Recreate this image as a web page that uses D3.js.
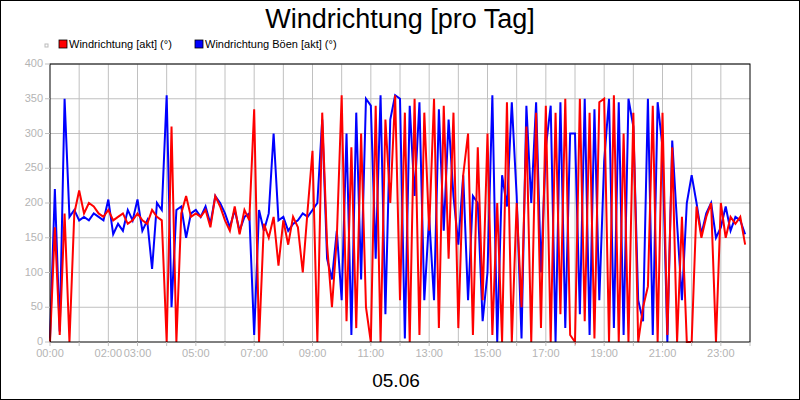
<!DOCTYPE html><html><head><meta charset="utf-8"><script src="https://d3js.org/d3.v7.min.js"></script>
<style>body{margin:0}svg{font-family:"Liberation Sans",Arial,sans-serif}</style></head><body><svg width="800" height="400"></svg><script>
const red=[0,165,10,185,0,185, 218,185,200,195,185,180, 190,175,180,185,170,175, 185,175,170,190,180,175, 0,310,0,185,210,180, 185,180,190,165,210,195, 175,160,195,155,190,175, 335,0,170,150,180,110, 175,140,180,165,100,190, 275,0,330,140,50,150, 355,30,280,20,300,50, 0,340,0,320,200,355, 60,330,0,350,10,330, 160,350,20,340,120,330, 20,240,300,10,280,60, 300,10,200,0,345,0, 200,50,310,0,330,20, 340,0,330,40,350,10, 0,350,30,330,5,345, 350,0,355,0,300,0, 330,0,50,80,340,0, 330,10,280,0,180,0, 0,195,150,180,200,0, 200,150,180,170,180,140];
const blue=[5,220,15,350,180,190, 175,180,175,185,180,175, 205,155,170,160,190,175, 205,160,175,105,200,190, 355,50,190,195,150,185, 190,180,195,170,210,200, 185,165,190,160,180,185, 10,190,160,185,300,175, 180,160,170,175,185,180, 190,200,320,120,90,160, 60,300,10,330,90,350, 340,120,355,40,320,355, 350,5,340,210,345,60, 180,60,335,160,320,210, 140,240,60,210,200,30, 100,355,0,240,195,345, 210,5,340,200,345,100, 280,340,0,345,20,300, 300,40,350,10,335,60, 260,350,20,345,10,350, 310,60,30,350,10,345, 280,0,290,170,60,200, 240,200,155,185,200,150, 165,195,160,180,175,155];
const tickHours=[0,2,3,5,7,9,11,13,15,17,19,21,23];
const yTicks=[0,50,100,150,200,250,300,350,400];
const svg=d3.select("svg");
svg.append("rect").attr("x",0.5).attr("y",0.5).attr("width",799).attr("height",399).attr("fill","#fff").attr("stroke","#000");
const x=d3.scaleLinear().domain([0,24]).range([50,750]);
const y=d3.scaleLinear().domain([0,400]).range([342,64]);
const g=svg.append("g");
g.selectAll(".v").data(d3.range(1,24)).join("line").attr("x1",d=>x(d)).attr("x2",d=>x(d)).attr("y1",64).attr("y2",342).attr("stroke","#c0c0c0");
g.selectAll(".h").data(yTicks.slice(1)).join("line").attr("x1",50).attr("x2",750).attr("y1",d=>y(d)).attr("y2",d=>y(d)).attr("stroke","#c0c0c0");
const ln=d3.line().x((d,i)=>x(i/6)).y(d=>y(d));
g.append("path").attr("d",ln(blue)).attr("fill","none").attr("stroke","#0000ff").attr("stroke-width",2);
g.append("path").attr("d",ln(red)).attr("fill","none").attr("stroke","#ff0000").attr("stroke-width",2);
g.append("rect").attr("x",50).attr("y",64).attr("width",700).attr("height",278).attr("fill","none").attr("stroke","#000");
svg.selectAll(".xt").data(d3.range(0,25)).join("line").attr("x1",d=>x(d)).attr("x2",d=>x(d)).attr("y1",342).attr("y2",346).attr("stroke","#c0c0c0");
svg.selectAll(".xl").data(tickHours).join("text").attr("x",d=>x(d)).attr("y",357).attr("text-anchor","middle").attr("font-size",11).attr("fill","#b4b4b4").text(d=>String(d).padStart(2,"0")+":00");
svg.selectAll(".yt").data(yTicks).join("line").attr("x1",45).attr("x2",50).attr("y1",d=>y(d)).attr("y2",d=>y(d)).attr("stroke","#c0c0c0");
svg.selectAll(".yl").data(yTicks).join("text").attr("x",43).attr("y",d=>y(d)+3).attr("text-anchor","end").attr("font-size",11).attr("fill","#b4b4b4").text(d=>d);
svg.append("text").attr("x",400).attr("y",28).attr("text-anchor","middle").attr("font-size",27).text("Windrichtung [pro Tag]");
svg.append("text").attr("x",396).attr("y",387).attr("text-anchor","middle").attr("font-size",19).text("05.06");
svg.append("rect").attr("x",45).attr("y",44).attr("width",3).attr("height",3).attr("fill","none").attr("stroke","#bbb");
const leg=[["Windrichtung [akt] (°)","#ff0000",59],["Windrichtung Böen [akt] (°)","#0000ff",195]];
leg.forEach(([t,c,lx])=>{svg.append("rect").attr("x",lx).attr("y",40).attr("width",8).attr("height",8).attr("fill",c).attr("stroke","#000").attr("stroke-width",0.8);
svg.append("text").attr("x",lx+10).attr("y",48).attr("font-size",11).text(t);});
</script></body></html>
